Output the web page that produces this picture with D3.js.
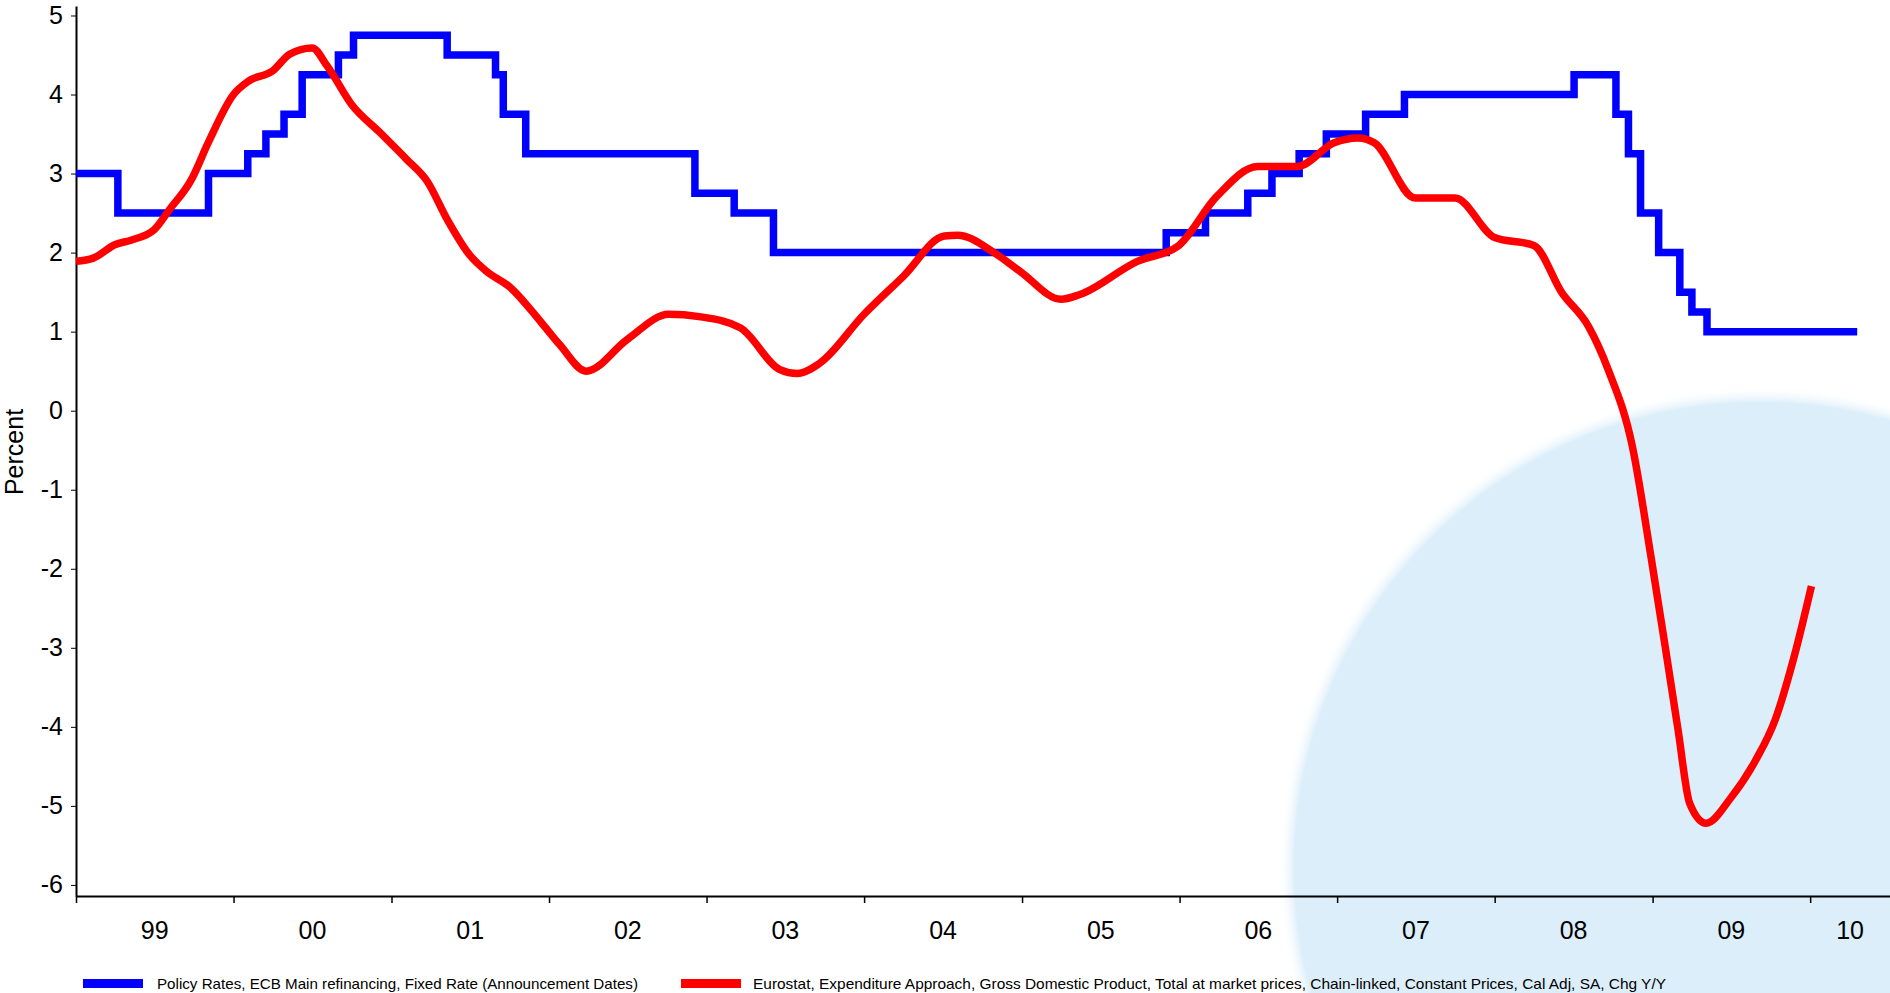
<!DOCTYPE html>
<html lang="en">

<head>
  <meta charset="UTF-8" />
  <meta name="viewport" content="width=device-width, initial-scale=1.0" />
  <title>ECB rate vs GDP</title>
  <style>
    body {
      margin: 0;
      height: 100vh;
      background: #fff;
    }

    #container {
      width: 1890px;
      height: 993px;
    }

    text {
      font-family: "Liberation Sans", Arial, sans-serif;
      fill: #000;
    }
  </style>
</head>

<body>
  <div id="container"></div>
  <script src="https://cdn.jsdelivr.net/npm/d3@7"></script>
  <script>
    // ECB main refinancing rate, announcement dates (step series)
    const rateDates = ['1999-01-01', '1999-04-08', '1999-11-04', '2000-02-03', '2000-03-16', '2000-04-27',
      '2000-06-08', '2000-08-31', '2000-10-05', '2001-05-10', '2001-08-30', '2001-09-17', '2001-11-08',
      '2002-12-05', '2003-03-06', '2003-06-05', '2005-12-01', '2006-03-02', '2006-06-08', '2006-08-03',
      '2006-10-05', '2006-12-07', '2007-03-08', '2007-06-06', '2008-07-03', '2008-10-08', '2008-11-06',
      '2008-12-04', '2009-01-15', '2009-03-05', '2009-04-02', '2009-05-07', '2010-04-20'];
    const rateValues = [3.00, 2.50, 3.00, 3.25, 3.50, 3.75,
      4.25, 4.50, 4.75, 4.50, 4.25, 3.75, 3.25,
      2.75, 2.50, 2.00, 2.25, 2.50, 2.75, 3.00,
      3.25, 3.50, 3.75, 4.00, 4.25, 3.75, 3.25,
      2.50, 2.00, 1.50, 1.25, 1.00, 1.00];

    // Euro area GDP, % chg y/y
    const gdpDates = ['1999-01-01', '1999-02-10', '1999-04-01', '1999-05-10', '1999-07-01', '1999-08-05',
      '1999-09-25', '1999-11-05', '2000-01-01', '2000-02-05', '2000-04-01', '2000-05-10', '2000-07-01',
      '2000-08-05', '2000-10-01', '2000-12-05', '2001-02-05', '2001-03-25', '2001-05-10', '2001-07-01',
      '2001-08-10', '2001-10-01', '2001-12-15', '2002-01-25', '2002-03-28', '2002-07-01', '2002-10-05',
      '2002-12-15', '2003-03-20', '2003-06-20', '2003-07-30', '2003-09-20', '2004-01-01', '2004-04-01',
      '2004-07-05', '2004-08-05', '2004-10-28', '2004-12-28', '2005-04-01', '2005-05-15', '2005-09-25',
      '2005-12-28', '2006-03-28', '2006-07-01', '2006-10-01', '2006-12-25', '2007-02-18', '2007-03-28',
      '2007-07-01', '2007-10-01', '2008-01-01', '2008-04-01', '2008-06-05', '2008-08-05', '2008-09-20',
      '2008-11-15', '2008-12-28', '2009-01-30', '2009-03-01', '2009-03-28', '2009-05-05', '2009-07-01',
      '2009-08-28', '2009-10-12', '2009-11-25', '2010-01-04'];
    const gdpValues = [1.89, 1.93, 2.10, 2.16, 2.29, 2.54,
      2.92, 3.41, 4.00, 4.17, 4.30, 4.51, 4.59,
      4.36, 3.87, 3.52, 3.18, 2.90, 2.42, 1.97,
      1.76, 1.57, 1.11, 0.84, 0.50, 0.90, 1.22,
      1.19, 1.05, 0.52, 0.47, 0.60, 1.22, 1.70,
      2.21, 2.22, 2.00, 1.76, 1.41, 1.47, 1.89,
      2.08, 2.71, 3.09, 3.09, 3.39, 3.45, 3.39,
      2.69, 2.69, 2.19, 2.09, 1.49, 1.07, 0.52,
      -0.45, -1.84, -2.98, -4.04, -4.97, -5.22, -4.90,
      -4.42, -3.91, -3.11, -2.22];

    const yTicks = [-6, -5, -4, -3, -2, -1, 0, 1, 2, 3, 4, 5];
    const yearLabels = ['99', '00', '01', '02', '03', '04', '05', '06', '07', '08', '09', '10'];
    const legendNames = ['Policy Rates, ECB Main refinancing, Fixed Rate (Announcement Dates)',
      'Eurostat, Expenditure Approach, Gross Domestic Product, Total at market prices, Chain-linked, Constant Prices, Cal Adj, SA, Chg Y/Y'];

    const margin = { top: 6, right: 0, bottom: 97, left: 76 };
    const parse = d3.timeParse('%Y-%m-%d');

    function draw() {
      d3.selectAll('svg').remove();
      let _width = 1890,
        _height = 993,
        width = _width - margin.left - margin.right,
        height = _height - margin.top - margin.bottom;

      let svg = d3.select('#container')
        .append('svg').attr('width', _width).attr('height', _height);

      const xScale = d3.scaleTime()
        .domain([parse('1999-01-01'), parse('2010-07-05')])
        .range([margin.left, margin.left + width]);
      const yScale = d3.scaleLinear()
        .domain([-6.14, 5.12])
        .range([margin.top + height, margin.top]);

      // soft light-blue disc in the lower right
      const grad = svg.append('defs').append('radialGradient').attr('id', 'disc');
      grad.append('stop').attr('offset', '0.965').attr('stop-color', '#dbeefa');
      grad.append('stop').attr('offset', '1').attr('stop-color', '#ffffff').attr('stop-opacity', 0);
      svg.append('circle')
        .attr('cx', 1760).attr('cy', 868).attr('r', 482)
        .attr('fill', 'url(#disc)');

      // y axis (plain hyphen for negatives, like the original)
      const yAxis = svg.append('g')
        .attr('transform', `translate(${margin.left},0)`)
        .call(d3.axisLeft(yScale).tickValues(yTicks).tickSize(5).tickPadding(8).tickSizeOuter(0)
          .tickFormat(d => String(d)));
      yAxis.selectAll('text').style('font-size', '25px').attr('font-family', null);
      yAxis.select('.domain').attr('stroke-width', 2);

      // x axis, ticks at year starts, labels centred in each year
      const years = d3.timeYear.range(parse('1999-01-01'), parse('2011-01-01'));
      const xAxis = svg.append('g')
        .attr('transform', `translate(0,${margin.top + height})`)
        .call(d3.axisBottom(xScale).tickValues(years).tickSize(7).tickSizeOuter(0).tickFormat(''));
      xAxis.select('.domain').attr('stroke-width', 2);
      xAxis.selectAll('.tick line').attr('stroke-width', 1.5);

      const xEnd = xScale.range()[1];
      svg.append('g').selectAll('text')
        .data(yearLabels)
        .enter()
        .append('text')
        .attr('x', (d, i) => {
          const a = xScale(years[i]);
          const b = i + 1 < years.length ? Math.min(xScale(years[i + 1]), xEnd) : xEnd;
          return (a + b) / 2;
        })
        .attr('y', margin.top + height + 43)
        .attr('text-anchor', 'middle')
        .style('font-size', '25px')
        .text(d => d);

      svg.append('text')
        .attr('transform', `translate(23,452) rotate(-90)`)
        .attr('text-anchor', 'middle')
        .style('font-size', '25px')
        .text('Percent');

      // series
      const rates = rateDates.map((d, i) => ({ date: parse(d), value: rateValues[i] }));
      const gdp = gdpDates.map((d, i) => ({ date: parse(d), value: gdpValues[i] }));

      svg.append('path')
        .datum(rates)
        .attr('fill', 'none')
        .attr('stroke', '#0000ff')
        .attr('stroke-width', 7.5)
        .attr('stroke-linejoin', 'miter')
        .attr('d', d3.line().x(d => xScale(d.date)).y(d => yScale(d.value)).curve(d3.curveStepAfter));

      svg.append('path')
        .datum(gdp)
        .attr('fill', 'none')
        .attr('stroke', '#ff0000')
        .attr('stroke-width', 7.5)
        .attr('stroke-linejoin', 'round')
        .attr('d', d3.line().x(d => xScale(d.date)).y(d => yScale(d.value)).curve(d3.curveMonotoneX));

      // legend
      const legend = [
        { color: '#0000ff', x: 83, tx: 157, w: 481 },
        { color: '#ff0000', x: 681, tx: 753, w: 913 }
      ];
      const lg = svg.append('g');
      lg.selectAll('rect')
        .data(legend)
        .enter()
        .append('rect')
        .attr('x', d => d.x).attr('y', 979)
        .attr('width', 60).attr('height', 9)
        .attr('fill', d => d.color);
      lg.selectAll('text')
        .data(legend)
        .enter()
        .append('text')
        .attr('x', d => d.tx).attr('y', 989)
        .attr('textLength', d => d.w)
        .attr('lengthAdjust', 'spacingAndGlyphs')
        .style('font-size', '15px')
        .text((d, i) => legendNames[i]);
    }
    draw();
  </script>
</body>

</html>
